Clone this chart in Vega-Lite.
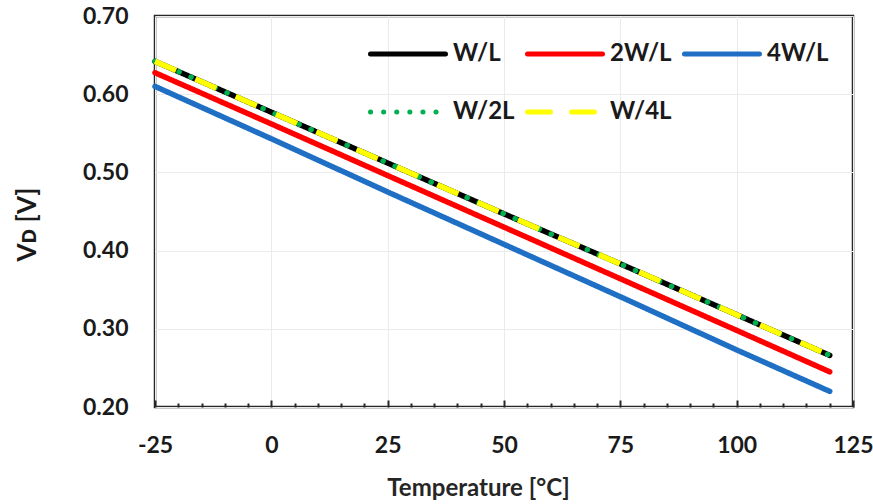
{
  "$schema": "https://vega.github.io/schema/vega-lite/v6.json",
  "width": 698,
  "height": 391,
  "autosize": {"type": "none"},
  "padding": {"left": 155, "top": 16, "right": 20, "bottom": 97},
  "background": "white",
  "config": {
    "view": {"stroke": "#262626", "strokeWidth": 2.5},
    "font": "Lato"
  },
  "data": {
    "values": [
      {"series": "W/L", "t": -25, "v": 0.642},
      {"series": "W/L", "t": 0, "v": 0.577},
      {"series": "W/L", "t": 25, "v": 0.512},
      {"series": "W/L", "t": 50, "v": 0.447},
      {"series": "W/L", "t": 75, "v": 0.383},
      {"series": "W/L", "t": 100, "v": 0.318},
      {"series": "W/L", "t": 120, "v": 0.266},
      {"series": "2W/L", "t": -25, "v": 0.6275},
      {"series": "2W/L", "t": 0, "v": 0.562},
      {"series": "2W/L", "t": 25, "v": 0.496},
      {"series": "2W/L", "t": 50, "v": 0.430},
      {"series": "2W/L", "t": 75, "v": 0.364},
      {"series": "2W/L", "t": 100, "v": 0.298},
      {"series": "2W/L", "t": 120, "v": 0.245},
      {"series": "4W/L", "t": -25, "v": 0.610},
      {"series": "4W/L", "t": 0, "v": 0.543},
      {"series": "4W/L", "t": 25, "v": 0.475},
      {"series": "4W/L", "t": 50, "v": 0.408},
      {"series": "4W/L", "t": 75, "v": 0.341},
      {"series": "4W/L", "t": 100, "v": 0.273},
      {"series": "4W/L", "t": 120, "v": 0.220},
      {"series": "W/2L", "t": -25, "v": 0.642},
      {"series": "W/2L", "t": 0, "v": 0.577},
      {"series": "W/2L", "t": 25, "v": 0.512},
      {"series": "W/2L", "t": 50, "v": 0.447},
      {"series": "W/2L", "t": 75, "v": 0.383},
      {"series": "W/2L", "t": 100, "v": 0.318},
      {"series": "W/2L", "t": 120, "v": 0.266},
      {"series": "W/4L", "t": -25, "v": 0.642},
      {"series": "W/4L", "t": 0, "v": 0.577},
      {"series": "W/4L", "t": 25, "v": 0.512},
      {"series": "W/4L", "t": 50, "v": 0.447},
      {"series": "W/4L", "t": 75, "v": 0.383},
      {"series": "W/4L", "t": 100, "v": 0.318},
      {"series": "W/4L", "t": 120, "v": 0.266}
    ]
  },
  "encoding": {
    "x": {
      "field": "t",
      "type": "quantitative",
      "scale": {"domain": [-25, 125], "nice": false, "zero": false},
      "axis": {
        "values": [-25, -20, -15, -10, -5, 0, 5, 10, 15, 20, 25, 30, 35, 40, 45, 50, 55, 60, 65, 70, 75, 80, 85, 90, 95, 100, 105, 110, 115, 120, 125],
        "labelExpr": "datum.value % 25 === 0 ? '' + datum.value : ''",
        "labelFontSize": 23,
        "labelFontWeight": "bold",
        "labelColor": "#1a1a1a",
        "labelPadding": 34,
        "labelFlush": false,
        "labelOverlap": false,
        "domain": false,
        "ticks": true,
        "tickColor": "#262626",
        "tickWidth": 2,
        "tickSize": {"condition": {"test": "datum.value % 25 === 0", "value": -7}, "value": -4},
        "grid": true,
        "gridColor": "#ebebeb",
        "gridWidth": 1,
        "gridOpacity": {"condition": {"test": "datum.value % 25 === 0", "value": 1}, "value": 0},
        "title": "Temperature [°C]",
        "titleFontSize": 24,
        "titleFontWeight": "bold",
        "titleColor": "#262626",
        "titleX": 323,
        "titleY": 69,
        "titleAlign": "center",
        "titleBaseline": "top"
      }
    },
    "y": {
      "field": "v",
      "type": "quantitative",
      "scale": {"domain": [0.2, 0.7], "nice": false, "zero": false},
      "axis": {
        "values": [0.2, 0.3, 0.4, 0.5, 0.6, 0.7],
        "format": ".2f",
        "labelFontSize": 23,
        "labelFontWeight": "bold",
        "labelColor": "#1a1a1a",
        "labelPadding": 27,
        "labelFlush": false,
        "domain": false,
        "ticks": false,
        "grid": true,
        "gridColor": "#ebebeb",
        "gridWidth": 1,
        "title": "Vᴅ  [V]",
        "titleFontSize": 26,
        "titleFontWeight": "bold",
        "titleColor": "#1a1a1a",
        "titleX": -128,
        "titleY": 208,
        "titleAngle": -90,
        "titleAlign": "center",
        "titleBaseline": "middle"
      }
    },
    "color": {
      "field": "series",
      "type": "nominal",
      "scale": {
        "domain": ["W/L", "2W/L", "4W/L", "W/2L", "W/4L"],
        "range": ["#000000", "#ff0000", "#1f6fc4", "#00b050", "#ffff00"]
      },
      "legend": {
        "orient": "none",
        "legendX": 213,
        "legendY": -2,
        "direction": "horizontal",
        "columns": 3,
        "title": null,
        "padding": 0,
        "symbolType": "stroke",
        "symbolSize": 5625,
        "symbolStrokeWidth": 5,
        "labelFontSize": 24,
        "labelFontWeight": "bold",
        "labelColor": "#1a1a1a",
        "labelOffset": 5,
        "columnPadding": 2,
        "rowPadding": 6,
        "labelLimit": 200,
        "encode": {"symbols": {"update": {"strokeCap": {"value": "round"}}}}
      }
    },
    "strokeDash": {
      "field": "series",
      "type": "nominal",
      "scale": {
        "domain": ["W/L", "2W/L", "4W/L", "W/2L", "W/4L"],
        "range": [[1, 0], [1, 0], [1, 0], [0.1, 13], [23, 21]]
      },
      "legend": {
        "orient": "none",
        "legendX": 213,
        "legendY": -2,
        "direction": "horizontal",
        "columns": 3,
        "title": null,
        "padding": 0,
        "symbolType": "stroke",
        "symbolSize": 5625,
        "symbolStrokeWidth": 5,
        "labelFontSize": 24,
        "labelFontWeight": "bold",
        "labelColor": "#1a1a1a",
        "labelOffset": 5,
        "columnPadding": 2,
        "rowPadding": 6,
        "labelLimit": 200,
        "encode": {"symbols": {"update": {"strokeCap": {"value": "round"}}}}
      }
    }
  },
  "layer": [
    {
      "transform": [{"filter": "indexof(['W/L','2W/L','4W/L'], datum.series) >= 0"}],
      "mark": {"type": "line", "strokeWidth": 5.5, "strokeCap": "round"}
    },
    {
      "transform": [{"filter": "datum.series === 'W/2L'"}],
      "mark": {"type": "line", "strokeWidth": 5.5, "strokeCap": "round"}
    },
    {
      "transform": [{"filter": "datum.series === 'W/4L'"}],
      "mark": {"type": "line", "strokeWidth": 5.5, "strokeCap": "butt"}
    }
  ]
}
